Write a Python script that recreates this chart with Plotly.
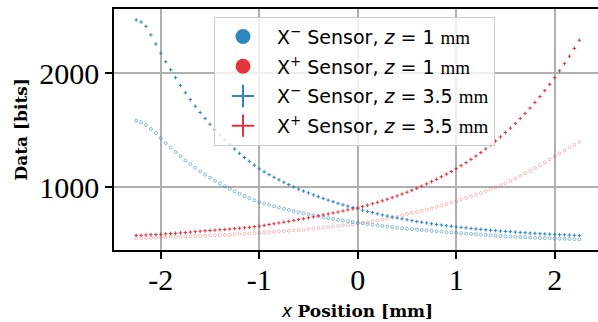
import numpy as np
import plotly.graph_objects as go

# Sensor readout vs. lateral position, sampled every 0.05 mm from -2.25 to 2.25 mm
x_start, x_stop = -2.25, 2.25

x_minus_z1 = [
    1583, 1570, 1545, 1510, 1475, 1430, 1387, 1347, 1308, 1271,
    1236, 1203, 1171, 1140, 1111, 1084, 1057, 1032, 1008, 985,
    964, 943, 923, 904, 886, 869, 857, 845, 833, 822,
    811, 801, 791, 781, 772, 763, 754, 746, 738, 730,
    723, 715, 708, 702, 695, 689, 683, 677, 671, 666,
    661, 656, 651, 646, 641, 637, 633, 629, 625, 621,
    617, 614, 610, 607, 604, 601, 597, 594, 590, 587,
    584, 581, 578, 575, 573, 570, 568, 566, 564, 562,
    560, 558, 556, 554, 553, 551, 550, 548, 547, 545,
    544,
]
x_plus_z1 = [
    553, 554, 556, 557, 559, 560, 562, 564, 565, 567,
    568, 570, 572, 574, 575, 577, 579, 581, 583, 585,
    587, 589, 592, 594, 597, 600, 603, 606, 609, 612,
    615, 618, 622, 625, 629, 633, 637, 642, 646, 651,
    656, 661, 666, 671, 677, 683, 689, 695, 702, 709,
    716, 725, 734, 744, 754, 765, 774, 784, 794, 804,
    815, 827, 839, 852, 865, 878, 892, 906, 920, 935,
    950, 966, 983, 1000, 1017, 1035, 1056, 1077, 1099, 1122,
    1145, 1169, 1193, 1218, 1244, 1270, 1296, 1322, 1348, 1372,
    1395,
]
x_minus_z35 = [
    2466, 2448, 2410, 2335, 2255, 2175, 2100, 2030, 1960, 1892,
    1828, 1768, 1710, 1655, 1602, 1552, 1504, 1459, 1415, 1374,
    1335, 1297, 1261, 1227, 1194, 1161, 1135, 1111, 1087, 1065,
    1044, 1023, 1003, 984, 967, 950, 933, 917, 902, 887,
    873, 859, 846, 834, 822, 811, 799, 788, 777, 767,
    757, 748, 739, 731, 723, 715, 707, 700, 693, 687,
    680, 674, 668, 663, 658, 653, 648, 644, 639, 635,
    631, 627, 623, 620, 616, 613, 610, 607, 604, 601,
    598, 596, 593, 591, 589, 587, 585, 583, 581, 579,
    577,
]
x_plus_z35 = [
    578, 580, 582, 584, 586, 588, 591, 594, 597, 600,
    603, 607, 611, 615, 618, 621, 624, 627, 630, 634,
    637, 641, 645, 649, 654, 659, 666, 673, 680, 687,
    694, 701, 709, 717, 724, 732, 740, 749, 757, 766,
    774, 783, 792, 802, 811, 820, 831, 843, 855, 868,
    881, 895, 909, 924, 940, 956, 973, 991, 1009, 1029,
    1049, 1070, 1092, 1115, 1138, 1163, 1189, 1216, 1244, 1274,
    1304, 1336, 1370, 1405, 1441, 1479, 1518, 1560, 1603, 1647,
    1694, 1743, 1794, 1847, 1902, 1960, 2020, 2083, 2148, 2217,
    2288,
]

x_tick_vals = [-2, -1, 0, 1, 2]
x_tick_text = ["-2", "-1", "0", "1", "2"]
y_tick_vals = [1000, 2000]
y_tick_text = ["1000", "2000"]

BLUE = "#2E86C1"
RED = "#E6343C"
SERIF = "Liberation Serif"
TITLE_SERIF = "DejaVu Serif"

pos = np.linspace(x_start, x_stop, len(x_minus_z1))

fig = go.Figure()

# z = 1 mm readings: tiny open circles, translucent
fig.add_trace(go.Scatter(
    x=pos, y=x_plus_z1, mode="markers", showlegend=False, hoverinfo="skip",
    marker=dict(symbol="circle-open", size=3, color="rgba(230,52,60,0.3)",
                line=dict(width=1, color="rgba(230,52,60,0.3)")),
))
fig.add_trace(go.Scatter(
    x=pos, y=x_minus_z1, mode="markers", showlegend=False, hoverinfo="skip",
    marker=dict(symbol="circle-open", size=3, color="rgba(46,134,193,0.55)",
                line=dict(width=1, color="rgba(46,134,193,0.55)")),
))
# z = 3.5 mm readings: tiny crosses
fig.add_trace(go.Scatter(
    x=pos, y=x_minus_z35, mode="markers", showlegend=False, hoverinfo="skip",
    marker=dict(symbol="cross-thin", size=2.5, color=BLUE, line=dict(width=1, color=BLUE)),
))
fig.add_trace(go.Scatter(
    x=pos, y=x_plus_z35, mode="markers", showlegend=False, hoverinfo="skip",
    marker=dict(symbol="cross-thin", size=2.5, color=RED, line=dict(width=1, color=RED)),
))

mm = "<span style='font-family:Liberation Serif'>mm</span>"
pad = "\u00a0"
legend_entries = [
    (pad + "X<sup>−</sup> Sensor, <i>z</i> = 1 " + mm, "circle", 13, BLUE),
    (pad + "X<sup>+</sup> Sensor, <i>z</i> = 1 " + mm, "circle", 13, RED),
    (pad + "X<sup>−</sup> Sensor, <i>z</i> = 3.5 " + mm, "cross-thin", 22, BLUE),
    (pad + "X<sup>+</sup> Sensor, <i>z</i> = 3.5 " + mm, "cross-thin", 22, RED),
]
for i, (name, sym, size, col) in enumerate(legend_entries):
    fig.add_trace(go.Scatter(
        x=[None], y=[None], mode="markers", name=name, legendgroup=f"g{i}",
        marker=dict(symbol=sym, size=size, color=col, line=dict(width=2, color=col)),
    ))

axis_common = dict(
    showline=True, linecolor="black", linewidth=1.6,
    ticks="outside", ticklen=7, tickwidth=1.6, tickcolor="black",
    showgrid=True, gridcolor="#b0b0b0", gridwidth=1.5,
    zeroline=False,
    tickfont=dict(family=SERIF, size=30, color="black"),
)

fig.update_layout(
    width=598, height=322,
    margin=dict(l=114, r=0, t=9, b=72),
    paper_bgcolor="white", plot_bgcolor="white",
    xaxis=dict(range=[-2.475, 2.44], tickvals=x_tick_vals, ticktext=x_tick_text,
               mirror=True, ticklabelstandoff=-5, **axis_common),
    yaxis=dict(range=[450, 2562], tickvals=y_tick_vals, ticktext=y_tick_text,
               mirror=False, **axis_common),
    legend=dict(
        x=0.2066, y=0.968, xanchor="left", yanchor="top",
        bgcolor="rgba(255,255,255,0.8)", bordercolor="#cccccc", borderwidth=1,
        font=dict(family="DejaVu Sans", size=19, color="black"),
        tracegroupgap=2, itemwidth=46,
    ),
    annotations=[
        dict(text="<b>Data [bits]</b>", textangle=-90, showarrow=False,
             xref="paper", yref="paper", x=(20 - 114) / 484, y=0.5,
             xanchor="center", yanchor="middle",
             font=dict(family=TITLE_SERIF, size=17, color="black")),
        dict(text="<span style='font-family:DejaVu Sans'><i>x</i></span> <b>Position [mm]</b>",
             showarrow=False, xref="paper", yref="paper",
             x=(357 - 114) / 484, y=(250 - 311) / 241,
             xanchor="center", yanchor="middle",
             font=dict(family=TITLE_SERIF, size=17, color="black")),
    ],
)

fig.write_html("out.html")
